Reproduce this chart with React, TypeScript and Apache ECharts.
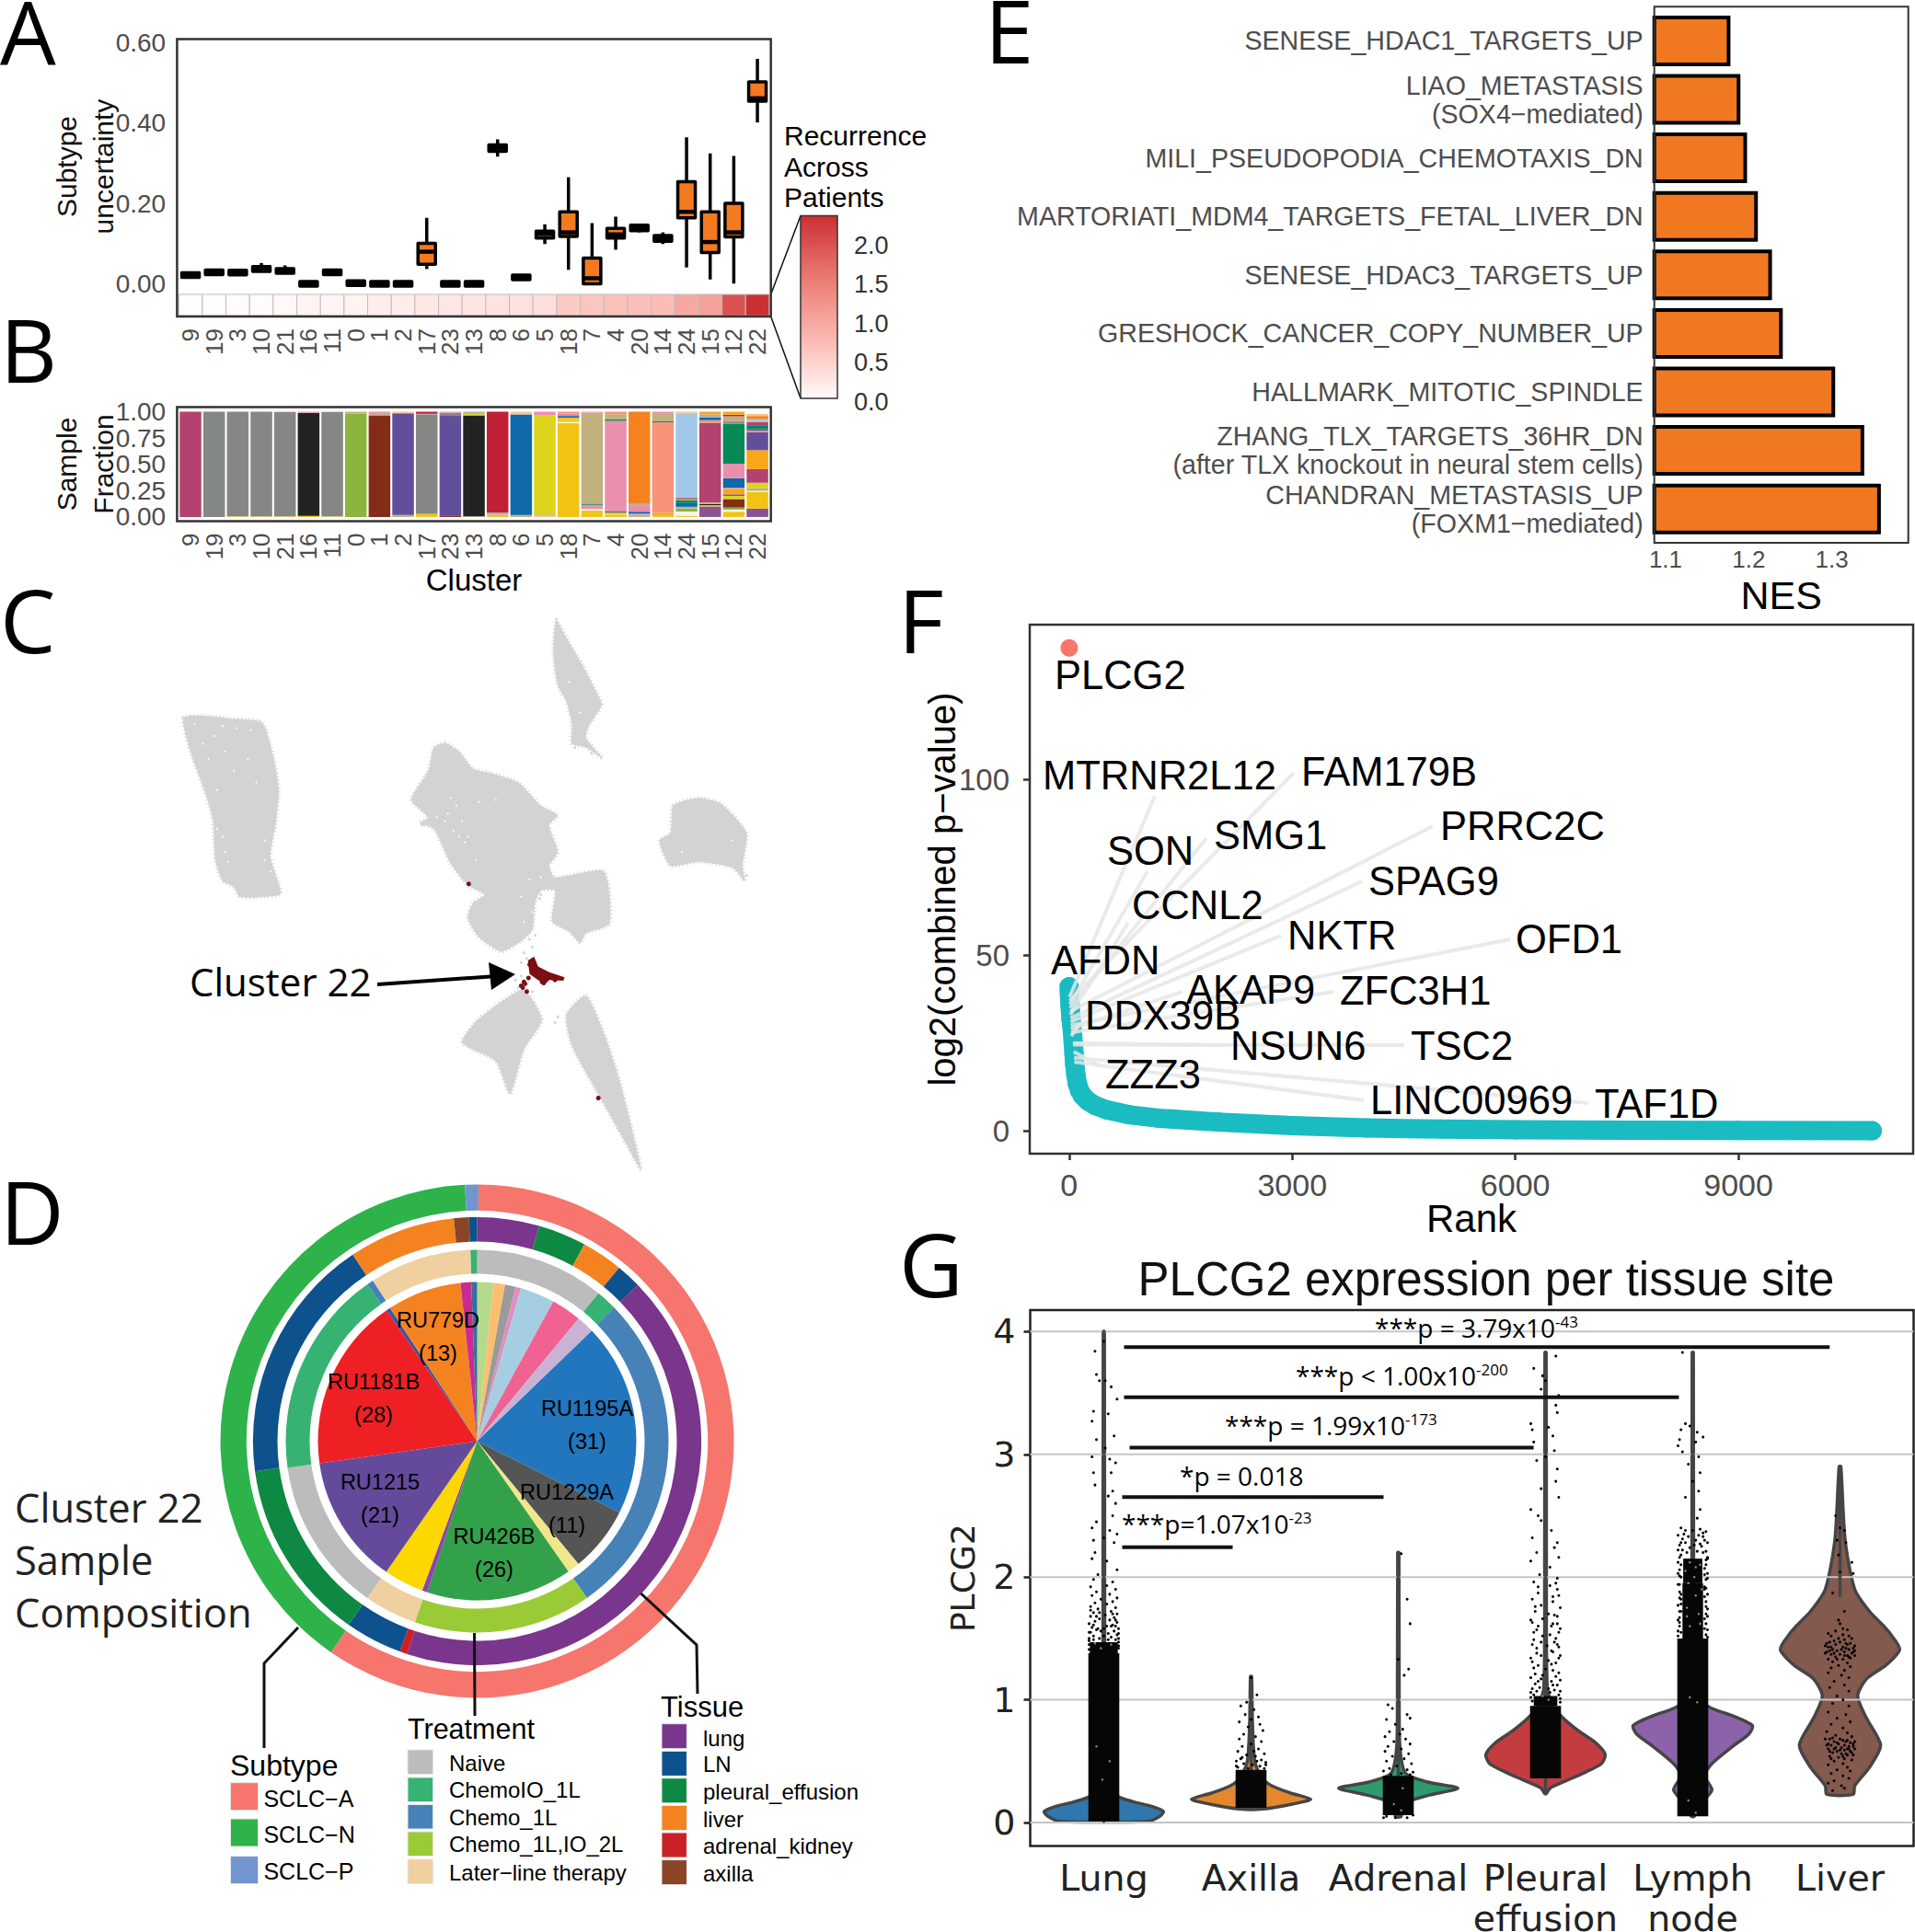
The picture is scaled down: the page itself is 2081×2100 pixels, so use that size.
import React, { useEffect, useRef } from "react";
import * as echarts from "echarts";

const HELV = "'Liberation Sans', Arial, sans-serif";
const MYRIAD = "'Open Sans', sans-serif";
const DEJAVU = "'DejaVu Sans', sans-serif";

// ---------- Panels A / B
const clusters = ["9","19","3","10","21","16","11","0","1","2","17","23","13","8","6","5","18","7","4","20","14","24","15","12","22"];
const boxLow  = [.018,.025,.025,.03,.026,-.001,.025,.0,-.001,-.001,.037,-.001,-.001,.316,.012,.099,.035,0,.085,.128,.099,.041,.011,.001,.401];
const boxQ1   = [.019,.026,.026,.031,.027,-.001,.026,.0,-.001,-.001,.049,-.001,-.001,.329,.013,.114,.118,0,.114,.132,.106,.164,.078,.117,.454];
const boxMed  = [.022,.029,.028,.037,.032,0,.029,.002,0,0,.08,0,0,.338,.016,.124,.128,.014,.123,.14,.114,.179,.104,.128,.461];
const boxQ3   = [.025,.032,.031,.043,.037,.001,.032,.004,.001,.001,.101,.001,.001,.345,.019,.131,.179,.064,.138,.146,.12,.254,.179,.2,.502];
const boxHigh = [.026,.033,.032,.052,.046,.001,.033,.005,.001,.001,.164,.001,.001,.359,.02,.148,.265,.151,.167,.15,.128,.364,.324,.318,.559];
const recurrence = [.02,.03,.04,.05,.07,.12,.12,.14,.2,.22,.25,.28,.3,.32,.34,.36,.6,.65,.7,.72,.75,1.0,1.1,2.0,2.38];
const recurrenceStops = ["#ffffff","#fbb9b2","#ea7a72","#cc2f33"];
const sampleColors: Record<string,string> = {
  rose:"#b34270",gray:"#858785",blk:"#222222",grn:"#8cb43c",brn:"#842c18",pur:"#624f9b",red:"#c01f36",blu:"#0f69aa",
  yel:"#ddd41b",gold:"#f3c313",tan:"#c1b17e",pink:"#ea8fae",org:"#f6821f",sal:"#f8937a",sky:"#a2c8e9",dgr:"#068957",
  amb:"#f9a61a",vio:"#8a5294",wht:"#f4f4f0",peach:"#f8c58a",lgr:"#b0b0a8"
};
const sampleStacks: [string,number][][] = [
  [["rose",1]],
  [["gray",1]],
  [["gold",.005],["gray",.995]],
  [["gold",.005],["gray",.995]],
  [["gold",.005],["gray",.99],["pink",.005]],
  [["gold",.01],["blk",.98],["pink",.01]],
  [["gold",.005],["gray",.99],["pink",.005]],
  [["grn",.98],["tan",.02]],
  [["brn",.965],["tan",.015],["pink",.02]],
  [["tan",.02],["pur",.965],["peach",.015]],
  [["gold",.03],["gray",.94],["lgr",.01],["red",.02]],
  [["brn",.015],["pur",.945],["gray",.03],["pink",.01]],
  [["tan",.005],["blk",.96],["yel",.015],["lgr",.02]],
  [["gold",.02],["lgr",.02],["red",.96]],
  [["tan",.02],["blu",.955],["peach",.025]],
  [["peach",.012],["tan",.012],["yel",.94],["pink",.036]],
  [["gold",.89],["wht",.012],["yel",.03],["amb",.012],["pur",.01],["blu",.012],["pink",.014],["sal",.02]],
  [["gold",.06],["wht",.015],["pink",.04],["dgr",.012],["tan",.863],["pink",.01]],
  [["gold",.02],["yel",.012],["amb",.012],["blu",.012],["pink",.858],["dgr",.012],["tan",.05],["sal",.024]],
  [["tan",.02],["pink",.01],["blu",.02],["pink",.055],["lgr",.02],["org",.875]],
  [["gold",.018],["amb",.022],["sal",.86],["dgr",.012],["tan",.068],["pink",.02]],
  [["gold",.012],["wht",.04],["grn",.03],["lgr",.015],["blu",.035],["dgr",.025],["tan",.012],["red",.012],["sky",.804],["peach",.015]],
  [["vio",.1],["gold",.012],["blk",.012],["tan",.012],["rose",.76],["amb",.012],["pink",.012],["blu",.025],["lgr",.03],["amb",.025]],
  [["gold",.05],["wht",.02],["grn",.02],["brn",.08],["yel",.03],["vio",.015],["amb",.05],["sal",.012],["blu",.09],["pink",.14],["dgr",.38],["gray",.02],["tan",.05],["red",.015],["amb",.028]],
  [["vio",.08],["gold",.16],["wht",.01],["grn",.01],["tan",.015],["yel",.05],["rose",.13],["amb",.18],["pur",.17],["sal",.012],["vio",.015],["dgr",.04],["rose",.012],["red",.015],["sky",.03],["org",.03],["peach",.021]]
];

// ---------- Panel E
const pathways = [
  "SENESE_HDAC1_TARGETS_UP","LIAO_METASTASIS\n(SOX4−mediated)","MILI_PSEUDOPODIA_CHEMOTAXIS_DN","MARTORIATI_MDM4_TARGETS_FETAL_LIVER_DN",
  "SENESE_HDAC3_TARGETS_UP","GRESHOCK_CANCER_COPY_NUMBER_UP","HALLMARK_MITOTIC_SPINDLE",
  "ZHANG_TLX_TARGETS_36HR_DN\n(after TLX knockout in neural stem cells)","CHANDRAN_METASTASIS_UP\n(FOXM1−mediated)"
];
const nesValues = [1.178,1.19,1.198,1.211,1.228,1.241,1.304,1.339,1.359];

// ---------- Panel F
const rankTop: [number,number][] = [[1,137.4]];
const rankCurve: [number,number][] = [[1,41],[3,39.5],[8,37],[15,35],[25,32],[35,30],[45,28],[55,25],[65,22],[75,19],[90,16],[110,13.5],[140,11.5],[180,10],[250,8.5],[350,7.2],[500,6],[800,4.6],[1200,3.6],[2000,2.5],[3000,1.5],[4000,.8],[5000,.5],[6000,.3],[7500,.15],[9000,.08],[10800,.02]];
const geneNames = ["PLCG2","AFDN","MTRNR2L12","FAM179B","SON","SMG1","PRRC2C","CCNL2","SPAG9","NKTR","OFD1","AKAP9","ZFC3H1","DDX39B","NSUN6","TSC2","ZZZ3","LINC00969","TAF1D"];
const geneRanks = [1,2,5,8,10,12,14,16,18,20,22,24,26,28,50,52,62,70,66];
const genePvals = [137.4,41,38,37,36,35,34,33,32,31,30,29,28,27,25,24.5,22.5,19.6,20.8];

// ---------- Panel G
const sites = ["Lung","Axilla","Adrenal","Pleural\neffusion","Lymph\nnode","Liver"];
const violinValues = [
  [.01,.05,.09,.13,.17,.21,.3,.6,1.5,4],
  [.11,.15,.19,.24,.3,.37,.5,.8,1.19],
  [.05,.15,.22,.28,.33,.4,.6,1,2.2],
  [.235,.28,.34,.41,.48,.555,.65,.75,.85,.95,1.1,2,3.83],
  [.05,.15,.265,.38,.48,.62,.72,.79,.87,.95,1.1,2,3.83],
  [.23,.3,.45,.63,.85,1.03,1.17,1.28,1.41,1.54,1.61,1.72,1.9,2.3,2.9]
];
const violinWidths = [
  [.3,.38,.405,.33,.2,.1,.04,.012,.006,.004],
  [.08,.28,.405,.27,.14,.07,.025,.01,.004],
  [.02,.03,.2,.405,.2,.05,.012,.006,.004],
  [.005,.03,.14,.27,.38,.405,.34,.22,.12,.05,.012,.006,.004],
  [.01,.05,.13,.08,.13,.27,.38,.405,.27,.1,.02,.006,.004],
  [.09,.1,.2,.276,.18,.12,.18,.31,.405,.34,.29,.2,.1,.035,.006]
];
const spineLow = [.01,.11,.05,.235,.05,1.85];
const violinColors = ["#2f77ae","#e6872e","#2e9b6e","#c43c40","#8c62aa","#84594e"];
const denseBlocks: [number,number,number,number][] = [
  [0,.01,1.38,.105],[0,1.38,1.47,.095],[1,.12,.43,.105],[2,.06,.38,.105],[3,.36,.95,.105],[3,.95,1.03,.08],
  [4,.05,1.5,.105],[4,1.5,1.95,.07],[4,1.95,2.15,.065]
];
const lungDots: [number,number][] = [[-.06,3.84],[.0,3.92],[-.05,3.65],[-.03,3.6],[.01,3.6],[.05,3.55],[.09,3.45],[-.07,3.35],[.03,3.33],[-.08,3.27],[.07,3.15],[-.05,3.12],[.01,3.05],[-.08,2.98],[.04,2.96],[.08,2.93],[-.07,2.85],[.05,2.85],[-.06,2.75],[.06,2.7],[.03,2.66],[.08,2.6],[.06,2.5],[-.05,2.45],[-.08,2.4],[.04,2.38],[.09,2.35],[.0,2.32],[-.07,2.3],[.07,2.28],[-.06,2.2],[-.08,2.15],[.02,2.13],[.09,2.06],[-.04,2.02],[-.07,1.98],[.06,1.96],[.02,1.93],[-.09,1.92],[.08,1.9],[-.05,1.88],[.04,1.86],[-.08,1.85],[.09,1.83],[-.02,1.82],[.06,1.8],[-.06,1.79],[.02,1.78],[-.09,1.76],[.08,1.75],[-.04,1.74],[.05,1.72],[-.07,1.71],[.09,1.7],[.01,1.69],[-.09,1.68],[.07,1.67],[-.03,1.66],[.04,1.65],[-.06,1.64],[.09,1.63],[-.1,1.62],[.06,1.61],[.02,1.6],[-.08,1.59],[.1,1.58],[-.05,1.57],[.07,1.56],[-.09,1.55],[.03,1.54],[.09,1.53],[-.07,1.52],[.05,1.51],[-.1,1.5],[.1,1.5],[-.04,1.58],[.08,1.6],[-.1,1.55],[.1,1.54],[.0,1.52],[-.02,1.56],[-.1,1.48],[.1,1.47],[-.07,1.49],[.08,1.49],[-.03,1.5],[.03,1.49],[-.1,1.45],[.1,1.44],[-.1,1.41],[.1,1.42],[.0,1.58],[.05,1.6],[-.07,1.61],[.08,1.65],[-.05,1.68],[.06,1.7],[-.03,1.71],[-.09,1.73]];
const axillaDots: [number,number][] = [[.0,1.18],[.04,1.04],[-.03,.98],[-.07,.95],[.02,.92],[-.04,.88],[.05,.86],[.0,.84],[-.08,.82],[.06,.8],[-.02,.78],[.08,.75],[-.05,.72],[.03,.7],[-.08,.68],[.07,.66],[.0,.64],[-.06,.62],[.05,.6],[-.09,.58],[.09,.56],[-.03,.55],[.03,.54],[-.07,.52],[.07,.51],[-.1,.5],[.1,.49],[-.05,.48],[.01,.47],[.06,.46],[-.09,.45],[.09,.44],[-.02,.44],[-.1,.46],[.04,.5],[.1,.47],[-.06,.53],[.02,.58]];
const adrenalDots: [number,number][] = [[.02,2.19],[.06,1.82],[.08,1.62],[.0,1.33],[.07,1.25],[.04,1.2],[-.07,.96],[-.04,.93],[.06,.88],[.08,.85],[-.08,.84],[-.02,.8],[.03,.76],[-.06,.74],[.01,.72],[-.09,.7],[.05,.68],[-.03,.66],[.08,.64],[-.07,.62],[.02,.6],[-.09,.58],[.07,.56],[-.04,.54],[.04,.52],[-.08,.5],[.09,.48],[-.01,.46],[-.06,.44],[.06,.43],[-.1,.42],[.1,.41],[.02,.4],[-.05,.39],[.08,.39],[-.1,.04],[.1,.06],[-.08,.05],[.06,.04],[-.02,.04]];
const pleuralDots: [number,number][] = [[.07,3.8],[-.08,3.7],[-.02,3.64],[.0,3.6],[-.03,3.53],[.09,3.48],[.07,3.4],[.08,3.34],[-.1,3.25],[.02,3.22],[-.09,3.2],[.05,3.15],[-.08,3.1],[.06,3.03],[.0,2.98],[-.06,2.95],[.08,2.88],[.07,2.78],[-.03,2.72],[.09,2.65],[-.1,2.55],[-.05,2.5],[-.03,2.46],[.04,2.38],[-.09,2.32],[.08,2.28],[.06,2.24],[-.06,2.2],[.09,2.16],[-.1,2.13],[.03,2.08],[-.04,2.02],[.08,1.99],[-.08,1.96],[.03,1.93],[.08,1.9],[-.05,1.87],[.09,1.85],[-.09,1.82],[.05,1.8],[-.03,1.77],[.1,1.75],[-.07,1.72],[.02,1.7],[.08,1.68],[-.1,1.65],[.05,1.62],[-.05,1.6],[.1,1.58],[-.08,1.55],[.03,1.53],[.07,1.5],[-.03,1.47],[-.09,1.45],[.09,1.43],[.04,1.4],[-.06,1.38],[.1,1.36],[-.1,1.34],[.02,1.32],[.07,1.3],[-.05,1.28],[-.08,1.26],[.05,1.24],[.09,1.22],[-.02,1.2],[-.1,1.18],[.1,1.16],[.04,1.15],[-.07,1.13],[.08,1.12],[-.04,1.1],[.02,1.09],
  [-.09,1.09],[.06,1.08],[.1,1.07],[-.06,1.07],[-.1,1.06],[.03,1.06],[-.03,1.17],[.07,1.19],[.0,1.25],[-.07,1.21],[.04,1.29],[-.09,1.31],[.09,1.34],[-.03,1.36],[.05,1.39],[-.06,1.42],[.08,1.45],[.01,1.44],[-.08,1.49],[.06,1.47],[-.02,1.52],[.09,1.55],[-.06,1.57],[.04,1.6],[-.09,1.63],[.08,1.62],[-.02,1.66],[.06,1.69],[-.07,1.76],[.05,1.84],[-.05,1.92],[.07,1.95],[-.1,1.02],[.1,1.01],[-.09,.99],[.1,.98],[.09,1.04],[-.08,1.04],[.05,1.12],[-.05,1.15]];
const lymphDots: [number,number][] = [[-.07,3.83],[-.08,3.2],[-.05,3.25],[-.02,3.23],[.03,3.18],[.07,3.14],[-.09,3.12],[-.1,3.07],[.02,3.1],[-.07,3.02],[.04,2.98],[-.03,2.92],[.05,2.85],[.0,2.78],[.04,2.7],[-.05,2.65],[.05,2.55],[.03,2.48],[-.08,2.4],[-.05,2.38],[.0,2.38],[.05,2.39],[.09,2.37],[-.1,2.34],[.07,2.33],[-.07,2.31],[.02,2.3],[.1,2.28],[-.09,2.26],[.06,2.25],[-.1,2.22],[.09,2.21],[-.08,2.18],[.1,2.15],[-.1,2.12],[.09,2.1],[-.09,2.06],[.1,2.03],[-.08,2.0],[.09,1.98],[-.1,1.94],[.08,1.92],[-.09,1.88],[.1,1.86],[-.08,1.82],[.09,1.8],[-.1,1.77],[.1,1.74],[-.09,1.72],[.1,1.68],[-.1,1.65],[.09,1.62],[-.09,1.6],[.1,1.57],[-.1,1.56],[.08,1.9],[-.08,1.78],[.09,1.7],[-.09,1.67],[.1,1.99],[-.1,2.03],[.1,2.16],
  [-.04,2.2],[.03,2.21],[-.07,2.22],[.07,2.2],[-.02,2.24],[.05,2.27],[-.05,2.28],[.01,2.26],[.08,2.3],[-.08,2.28],[-.03,2.33],[.04,2.34],[-.06,2.35],[.07,2.36],[-.09,2.16],[.09,2.14],[-.08,2.1],[.08,2.07],[-.09,2.01],[.08,2.02],[-.09,1.94],[.09,1.91],[-.08,1.86],[.08,1.84],[-.09,1.83],[.09,1.76],[-.08,1.72],[.08,1.66],[-.09,1.63],[.08,1.58],[-.08,1.55],[.09,1.53],[-.1,1.52],[.1,1.51]];
const liverDots: [number,number][] = [[-.03,2.5],[.0,2.4],[.03,2.38],[-.02,2.3],[.04,2.28],[.08,2.12],[.09,2.03],[-.01,2.18],[.0,2.04],[-.05,1.87],[.03,1.72],[-.01,1.65],[.0,1.62],[.02,1.58],[-.03,1.56],[.05,1.57],[-.06,1.52],[.06,1.52],[-.01,1.5],[.03,1.49],[-.07,1.47],[.0,1.47],[.07,1.46],[-.03,1.45],[.05,1.45],[-.08,1.43],[.02,1.43],[.09,1.42],[-.05,1.41],[.06,1.41],[-.02,1.4],[.03,1.39],[-.09,1.39],[.08,1.38],[-.06,1.37],[.0,1.37],[.05,1.36],[-.03,1.35],[.07,1.34],[-.08,1.33],[.02,1.33],[-.05,1.31],[.05,1.3],[-.01,1.28],[.07,1.27],[-.06,1.26],[.03,1.24],[-.08,1.22],[.01,1.2],[.06,1.18],[-.04,1.15],[.03,1.12],[-.07,1.1],[.06,1.07],[-.02,1.03],[.02,1.0],[-.05,.97],[.06,.95],[-.08,.9],[.04,.88],[-.02,.85],[.07,.82],[-.06,.8],[.02,.77],[-.09,.74],[.05,.73],[-.03,.71],[.08,.7],[-.07,.68],[.0,.68],[.05,.67],[-.04,.66],[.07,.65],[-.01,.64],[.03,.63],[-.06,.63],[.09,.62],[-.03,.61],[.01,.61],[.06,.6],[-.08,.6],[.03,.59],[-.02,.58],[.07,.58],[-.05,.57],[.01,.56],[.05,.55],[-.07,.54],[-.01,.53],[.03,.52],[.08,.51],[-.04,.5],[.02,.48],[-.08,.47],[.05,.45],[-.02,.43],[.07,.42],[-.06,.4],[.02,.38],[.06,.36],[-.04,.34],[-.08,.32],[.01,.3],[.03,.28],[-.05,.26],
  [-.1,1.44],[.1,1.44],[-.1,1.38],[.1,1.36],[.04,1.46],[-.04,1.48],[.08,1.5],[-.08,1.54],[.02,1.53],[.04,1.42],[-.04,1.38],[-.09,1.46],[.06,1.35],[-.02,1.33],[.01,1.41],[.09,1.39],[-.07,1.4],[.03,1.36],[-.06,1.43],[.1,1.4],[-.1,.68],[.1,.66],[-.09,.63],[.1,.6],[.04,.66],[-.05,.69],[.09,.64],[-.07,.58],[.06,.62],[-.02,.65],[.02,.67],[.08,.57],[-.04,.6],[.05,.6],[-.08,.64],[.0,.59],[.04,.56],[-.06,.52],[.02,.54],[.09,.55]];
const blockSpecks: [number,number][] = [[-.02,1.42],[.05,1.45],[-.06,1.46],[3.98,1.02],[4.03,.98],[3.02,1.0],[2.98,1.03],[4.05,1.62],[3.96,1.75],[4.02,1.85],[4.04,1.7],[3.98,1.6],[4.01,2.0],[4.05,2.1],[3.95,2.05],[3.98,2.12],[3.97,1.95],[4.02,2.08],[3.96,1.68],[4.06,1.9],[-.01,.35],[.04,.5],[-.05,.62],[2.03,.28],[1.97,.15],[2.02,.1],[4.02,.08],[3.97,.18]];
const compLow = [.1375,.1375,.175,.125,.125];
const compHigh = [4.93,3.906,2.919,1.9,.875];
const compY = [3.873,3.465,3.055,2.651,2.244];
const gTicks = [0,1,2,3,4];
const siteDots = [lungDots,axillaDots,adrenalDots,pleuralDots,lymphDots,liverDots];

// ---------- Panel C (read in a 0-1568 picture space)
const umapBlobs: [number,number][][] = [
  [[325,333],[365,328],[410,335],[465,345],[485,430],[495,520],[490,600],[480,690],[490,740],[498,788],[455,797],[425,795],[415,770],[395,755],[382,700],[378,600],[365,530],[340,430]],
  [[987,80],[1005,125],[1035,200],[1060,270],[1068,300],[1045,355],[1040,385],[1070,438],[1040,410],[1015,400],[1015,350],[1005,290],[990,250],[982,170]],
  [[790,398],[815,420],[840,465],[870,475],[920,500],[960,560],[990,585],[975,610],[990,680],[975,715],[985,745],[1072,730],[1082,865],[1040,890],[1030,915],[1010,885],[980,860],[985,780],[960,780],[950,810],[945,880],[925,910],[890,937],[850,900],[830,850],[840,810],[860,790],[830,765],[800,710],[770,620],[745,605],[760,590],[730,545],[760,470],[770,410]],
  [[1195,560],[1240,540],[1280,555],[1325,630],[1318,715],[1322,755],[1300,720],[1240,705],[1190,715],[1170,650],[1190,630]],
  [[925,1035],[945,1060],[962,1115],[930,1190],[905,1305],[880,1220],[820,1172],[850,1110]],
  [[1040,1050],[1070,1140],[1100,1270],[1138,1500],[1110,1430],[1060,1300],[1015,1180],[1005,1100]]
];
const umapCluster22: [number,number][] = [[948,950],[955,975],[975,990],[1002,1003],[1000,1012],[975,1010],[968,1020],[955,1010],[940,995],[937,960]];
const umapGreySpecks: [number,number][] = [[930,940],[935,955],[925,965],[945,925],[940,905],[935,890],[950,895],[925,1000],[915,1010],[945,1040],[930,1050],[990,1105],[985,1120],[920,1030],[1050,425],[1020,410],[750,610],[1325,740],[958,800],[945,860],[960,790],[940,830]];
const umapGaps: [number,number][] = [[800,540],[810,560],[795,580],[820,600],[805,625],[830,640],[825,655],[880,545],[850,550],[940,750],[960,745],[925,795],[945,835],[930,860],[395,640],[400,680],[385,620],[420,360],[380,380],[440,440],[400,420],[360,400],[470,650],[345,350],[395,355],[445,365],[370,440],[415,470],[455,500],[385,520],[405,705],[470,700],[480,730],[775,590],[790,600],[815,640],[845,700],[1210,680],[1300,650],[1030,320],[1010,240]];
const umapRedSpecks: [number,number][] = [[930,1015],[925,1025],[935,1040],[938,1005],[965,1018],[1062,1315],[832,762],[945,985],[928,1030],[932,1020],[985,1010],[940,970],[962,1015]];

// ---------- Panel D (slice shares in degrees)
const pieNames = ["s1","s2","s3","s4","s5","s6","s7","RU1195A","RU1229A","s10","RU426B","s12","s13","RU1215","RU1181B","s16","RU779D","s18","s19"];
const pieShares = [6,4.1,3.9,2,12.6,11,6.5,70.5,23.9,4.5,53.3,1.9,14.6,47.2,63.3,1.5,27.2,3.9,2.1];
const pieCounts = [0,0,0,0,0,0,0,31,11,0,26,0,0,21,28,0,13,0,0];
const pieColors = ["#b5da8c","#fdbf6f","#9a9a9a","#dc8fc0","#a6cee3","#f06292","#cab2d6","#2176bd","#555555","#f0e68c","#33a04a","#8e44ad","#fcd800","#654a9c","#ee2024","#3953a4","#f58220","#c92c90","#376ea3"];
const treatmentShares = [39.4,6.3,99.3,54,16,47,63,2,31,2];
const treatmentKinds = ["Naive","ChemoIO_1L","Chemo_1L","Chemo_1L,IO_2L","Later−line therapy","Naive","ChemoIO_1L","Chemo_1L","Later−line therapy","ChemoIO_1L"];
const tissueShares = [16.1,12.5,10.7,6.5,152.4,2,14.8,47.3,64,27.7,3.9,2.1];
const tissueKinds = ["lung","pleural_effusion","liver","LN","lung","adrenal_kidney","LN","pleural_effusion","LN","liver","axilla","LN"];
const subtypeShares = [214.4,142.6,3];
const subtypeKinds = ["SCLC−A","SCLC−N","SCLC−P"];
const subtypeColors: Record<string,string> = {"SCLC−A":"#f6756d","SCLC−N":"#2db34a","SCLC−P":"#7195ce"};
const treatmentColors: Record<string,string> = {"Naive":"#bcbcbc","ChemoIO_1L":"#36b272","Chemo_1L":"#4682b8","Chemo_1L,IO_2L":"#9acb36","Later−line therapy":"#f0d0a0"};
const tissueColors: Record<string,string> = {"lung":"#7a358c","LN":"#0d528d","pleural_effusion":"#0e8943","liver":"#f58220","adrenal_kidney":"#cc2027","axilla":"#8a4526"};

// ---------- Layout constants
const pieLabelLayout: Record<string,[number,number]> = {
  RU1195A:[638,1549],RU1229A:[616,1640],RU426B:[537,1688],RU1215:[413,1629],RU1181B:[406,1520],RU779D:[476,1453]
};
const geneLabelLayout: Record<string,{x:number;y:number;ex?:number;ey?:number}> = {
  PLCG2:{x:1146,y:734}, AFDN:{x:1142,y:1044},
  MTRNR2L12:{x:1133,y:843,ex:1255,ey:865}, FAM179B:{x:1414,y:839,ex:1406,ey:840},
  SON:{x:1203,y:925,ex:1247,ey:947}, SMG1:{x:1319,y:908,ex:1311,ey:911},
  PRRC2C:{x:1565,y:898,ex:1557,ey:898}, CCNL2:{x:1230,y:984,ex:1226,ey:1003},
  SPAG9:{x:1487,y:958,ex:1480,ey:958}, NKTR:{x:1399,y:1017,ex:1392,ey:1017},
  OFD1:{x:1647,y:1021,ex:1641,ey:1021}, AKAP9:{x:1289,y:1076,ex:1285,ey:1078},
  ZFC3H1:{x:1456,y:1077,ex:1449,ey:1078}, DDX39B:{x:1179,y:1104,ex:1173,ey:1113},
  NSUN6:{x:1337,y:1137,ex:1329,ey:1136}, TSC2:{x:1533,y:1137,ex:1526,ey:1136},
  ZZZ3:{x:1201,y:1168,ex:1194,ey:1158}, LINC00969:{x:1489,y:1196,ex:1482,ey:1196},
  TAF1D:{x:1733,y:1200,ex:1726,ey:1199}
};

function hexLerp(a:string,b:string,t:number){
  const p=(h:string,i:number)=>parseInt(h.slice(i,i+2),16);
  const c=[1,3,5].map(i=>Math.round(p(a,i)+(p(b,i)-p(a,i))*t));
  return `rgb(${c[0]},${c[1]},${c[2]})`;
}
function recColor(v:number){
  const t=Math.min(.9999,v/2.38)*(recurrenceStops.length-1);
  const i=Math.floor(t);
  return hexLerp(recurrenceStops[i],recurrenceStops[i+1],t-i);
}

function txt(text:string,x:number,y:number,size:number,o:any={}){
  return {type:"text",x,y,z:30,silent:true,rotation:o.rotation||0,style:{text,fontSize:size,fontFamily:o.font||HELV,fill:o.fill||"#000",
    textAlign:o.align||"left",textVerticalAlign:o.valign||"middle",lineHeight:o.lineHeight,rich:o.rich,fontWeight:o.weight||"normal"}};
}
function frame(x:number,y:number,w:number,h:number,lw=2.5){
  return {type:"rect",z:25,silent:true,shape:{x,y,width:w,height:h},style:{fill:"none",stroke:"#333",lineWidth:lw}};
}
function swatch(x:number,y:number,w:number,h:number,c:string){
  return {type:"rect",z:20,silent:true,shape:{x,y,width:w,height:h},style:{fill:c,stroke:"#e8e8e8",lineWidth:1}};
}
function poly(points:number[][],lw=3){
  return {type:"polyline",z:20,silent:true,shape:{points},style:{stroke:"#111",lineWidth:lw,fill:"none"}};
}
function sup(base:string,exp:string,x:number,y:number){
  return txt(`{a|${base}}{b|${exp}}`,x,y,27,{font:MYRIAD,rich:{
    a:{fontSize:28,fontFamily:MYRIAD,fill:"#000"},
    b:{fontSize:17,fontFamily:MYRIAD,fill:"#000",verticalAlign:"top",lineHeight:30}}});
}

function buildOption(){
  const maxSeg=Math.max(...sampleStacks.map(s=>s.length));
  const stackSeries=[];
  for(let k=0;k<maxSeg;k++){
    stackSeries.push({type:"bar",name:"seg"+k,stack:"samples",xAxisIndex:2,yAxisIndex:3,barWidth:23.5,silent:true,
      data:sampleStacks.map(s=>s[k]?{value:s[k][1],itemStyle:{color:sampleColors[s[k][0]]}}:0)});
  }
  const tickFont={fontFamily:HELV,color:"#4d4d4d"};
  const noAxis={show:false};
  const noLine={show:false,onZero:false};
  const graphicEls:any[]=[
    txt("A",0,33,96,{font:MYRIAD}),txt("B",0,378,96,{font:MYRIAD}),txt("C",0,672,96,{font:MYRIAD}),
    txt("D",0,1315,96,{font:MYRIAD}),txt("E",1070,31,96,{font:MYRIAD}),txt("F",976,672,96,{font:MYRIAD}),txt("G",977,1372,96,{font:MYRIAD}),
    frame(192.4,42.5,645.3,301.5),frame(192.4,442.5,645.3,124),frame(1797.7,7.3,276,582.7,2),
    txt("Subtype\nuncertainty",92,181,30,{rotation:Math.PI/2,align:"center",lineHeight:40,fill:"#111"}),
    txt("Recurrence\nAcross\nPatients",852,181,30,{lineHeight:33.5}),
    poly([[837.7,320],[870,234.5]],1.5),poly([[837.7,344],[870,433]],1.5),
    frame(870,234.5,40,198.5,1.5),
    txt("Cluster 22",206,1066,42,{font:MYRIAD}),
    {type:"line",z:20,silent:true,shape:{x1:410,y1:1070,x2:540,y2:1061},style:{stroke:"#000",lineWidth:4}},
    {type:"polygon",z:21,silent:true,shape:{points:[[560,1059],[531,1046],[534,1076]]},style:{fill:"#000"}},
    txt("Cluster 22\nSample\nComposition",16,1695,43.5,{font:MYRIAD,lineHeight:57,fill:"#222"}),
    poly([[324,1769],[287,1808],[287,1900]]),poly([[515.5,1775],[516,1865]]),poly([[696.5,1732],[757,1788],[758,1841]]),
    txt("Subtype",250,1919,32),txt("Treatment",443,1879,30.5),txt("Tissue",718,1855,31)
  ];
  const subY=[1937.7,1977,2017.6], subT=[1955,1994,2034];
  subtypeKinds.forEach((k,i)=>{graphicEls.push(swatch(250.5,subY[i],30,30,subtypeColors[k]));graphicEls.push(txt(k,286.4,subT[i],25));});
  const trY=[1902,1932,1961.5,1991,2021], trT=[1916,1945,1975,2004,2035];
  Object.keys(treatmentColors).forEach((k,i)=>{graphicEls.push(swatch(443,trY[i],27.6,26.5,treatmentColors[k]));graphicEls.push(txt(k,488,trT[i],24));});
  const tiY=[1873.7,1903.4,1932.8,1962.5,1992,2021.6], tiT=[1889,1917.6,1947.6,1977,2006,2036];
  Object.keys(tissueColors).forEach((k,i)=>{graphicEls.push(swatch(719,tiY[i],27.4,27,tissueColors[k]));graphicEls.push(txt(k,764,tiT[i],24));});
  pieNames.forEach((n,i)=>{
    if(pieCounts[i]){const p=pieLabelLayout[n];graphicEls.push(txt(`${n}\n(${pieCounts[i]})`,p[0],p[1],23.5,{align:"center",lineHeight:36}));}
  });
  graphicEls.push(sup("***p = 3.79x10","-43",1494,1443),sup("***p < 1.00x10","-200",1408,1495),sup("***p = 1.99x10","-173",1331,1549),
    txt("*p = 0.018",1282,1604,28,{font:MYRIAD}),sup("***p=1.07x10","-23",1219,1656));

  const violinRender=(params:any,api:any)=>{
    const i=api.value(0);
    const vals=violinValues[i], hw=violinWidths[i];
    const right=vals.map((v,k)=>api.coord([i+hw[k],v]));
    const left=vals.map((v,k)=>api.coord([i-hw[k],v])).reverse();
    return {type:"polygon",shape:{points:[...right,...left],smooth:.25},style:{fill:violinColors[i],stroke:"#454545",lineWidth:3.5,lineJoin:"round"}};
  };
  const gridBase={outerBoundsMode:"none"};

  return {
    animation:false,
    backgroundColor:"#ffffff",
    textStyle:{fontFamily:HELV},
    title:[{text:"PLCG2 expression per tissue site",left:1610,top:1360,textAlign:"center",textStyle:{fontFamily:HELV,fontSize:51,fontWeight:"normal",color:"#111"}}],
    grid:[
      {...gridBase,left:194.2,top:42.5,width:641.7,height:301.5},
      {...gridBase,left:870,top:234.5,width:40,height:202.5},
      {...gridBase,left:194.2,top:442.5,width:641.7,height:124},
      {...gridBase,left:1797.7,top:12.6,width:276,height:572.4},
      {...gridBase,left:1119,top:679,width:960,height:575,show:true,borderColor:"#333",borderWidth:2.5},
      {...gridBase,left:1119.5,top:1424,width:960,height:582.5,show:true,borderColor:"#222",borderWidth:2.5},
      {...gridBase,left:0,top:640,width:960,height:660}
    ],
    xAxis:[
      {type:"category",gridIndex:0,data:clusters,axisLine:noLine,axisTick:{alignWithLabel:true,length:7,lineStyle:{color:"#333",width:3}},axisLabel:{...tickFont,interval:0,rotate:90,fontSize:26,margin:13}},
      {type:"value",gridIndex:1,min:0,max:1,...noAxis},
      {type:"category",gridIndex:2,data:clusters,name:"Cluster",nameLocation:"middle",nameMoveOverlap:false,nameGap:47,nameTextStyle:{fontFamily:HELV,fontSize:33,color:"#000"},axisLine:noLine,axisTick:{alignWithLabel:true,length:7,lineStyle:{color:"#333",width:3}},axisLabel:{...tickFont,interval:0,rotate:90,fontSize:26,margin:13}},
      {type:"value",gridIndex:3,min:1.0864,max:1.392,name:"NES",nameLocation:"middle",nameMoveOverlap:false,nameGap:40,nameTextStyle:{fontFamily:HELV,fontSize:43,color:"#000"},splitLine:{show:false},axisLine:noLine,
        axisTick:{customValues:[1.1,1.2,1.3],length:6,lineStyle:{color:"#333",width:2.5}},axisLabel:{...tickFont,customValues:[1.1,1.2,1.3],fontSize:26,margin:10,formatter:(v:number)=>v.toFixed(1)}},
      {type:"value",gridIndex:4,min:-530,max:11351,name:"Rank",nameLocation:"middle",nameMoveOverlap:false,nameGap:49,nameTextStyle:{fontFamily:HELV,fontSize:42,color:"#000"},splitLine:{show:false},axisLine:noLine,
        axisTick:{customValues:[0,3000,6000,9000],length:7,lineStyle:{color:"#333",width:2.5}},axisLabel:{...tickFont,customValues:[0,3000,6000,9000],fontSize:34,margin:17,formatter:(v:number)=>String(v)}},
      {type:"category",gridIndex:5,data:sites,axisLine:noLine,axisTick:{alignWithLabel:true,length:7,lineStyle:{color:"#222",width:2.5}},axisLabel:{fontFamily:DEJAVU,color:"#222",interval:0,fontSize:39.5,lineHeight:44,margin:12}},
      {type:"value",gridIndex:5,min:-.5,max:5.5,...noAxis},
      {type:"value",gridIndex:6,min:0,max:1568,...noAxis}
    ],
    yAxis:[
      {type:"value",gridIndex:0,min:-.0809,max:.608,splitLine:{show:false},axisLine:noLine,axisTick:{customValues:[0,.2,.4,.6],length:8,lineStyle:{color:"#333",width:3}},axisLabel:{...tickFont,customValues:[0,.2,.4,.6],fontSize:28,margin:14,formatter:(v:number)=>v.toFixed(2)}},
      {type:"value",gridIndex:1,position:"right",min:0,max:2.38,splitLine:{show:false},axisLine:noLine,axisTick:{inside:true,customValues:[.5,1,1.5,2],length:7,lineStyle:{color:"#fff",width:1.5}},axisLabel:{...tickFont,color:"#333",customValues:[0,.5,1,1.5,2],fontSize:27,margin:18,formatter:(v:number)=>v.toFixed(1)}},
      {type:"value",gridIndex:1,position:"left",min:0,max:2.38,splitLine:{show:false},axisLine:noLine,axisTick:{inside:true,customValues:[.5,1,1.5,2],length:7,lineStyle:{color:"#fff",width:1.5}},axisLabel:{show:false}},
      {type:"value",gridIndex:2,min:-.04,max:1.044,name:"Sample\nFraction",nameLocation:"middle",nameMoveOverlap:false,nameRotate:90,nameGap:62,nameTextStyle:{fontFamily:HELV,fontSize:30,color:"#111",lineHeight:40},splitLine:{show:false},axisLine:noLine,axisTick:{customValues:[0,.25,.5,.75,1],length:8,lineStyle:{color:"#333",width:3}},axisLabel:{...tickFont,customValues:[0,.25,.5,.75,1],fontSize:28,margin:14,formatter:(v:number)=>v.toFixed(2)}},
      {type:"category",gridIndex:3,inverse:true,data:pathways,axisLine:noLine,axisTick:{alignWithLabel:true,length:6,lineStyle:{color:"#333",width:2.5}},axisLabel:{...tickFont,interval:0,fontSize:28.6,lineHeight:31,margin:12}},
      {type:"value",gridIndex:4,min:-6.5,max:144,name:"log2(combined p−value)",nameLocation:"middle",nameMoveOverlap:false,nameRotate:90,nameGap:75,nameTextStyle:{fontFamily:HELV,fontSize:40,color:"#000"},splitLine:{show:false},axisLine:noLine,axisTick:{customValues:[0,50,100],length:7,lineStyle:{color:"#333",width:2.5}},axisLabel:{...tickFont,customValues:[0,50,100],fontSize:33,margin:22}},
      {type:"value",gridIndex:5,min:-.191,max:4.175,name:"PLCG2",nameLocation:"middle",nameMoveOverlap:false,nameRotate:90,nameGap:55,nameTextStyle:{fontFamily:DEJAVU,fontSize:36,color:"#222"},splitLine:{show:false},axisLine:noLine,axisTick:{customValues:gTicks,length:7,lineStyle:{color:"#222",width:2.5}},axisLabel:{fontFamily:DEJAVU,color:"#222",customValues:gTicks,fontSize:38,margin:16}},
      {type:"value",gridIndex:6,inverse:true,min:0,max:1568,...noAxis}
    ],
    series:[
      // A: heat strip
      {type:"custom",xAxisIndex:0,yAxisIndex:0,silent:true,clip:false,z:2,data:recurrence.map((v,i)=>[i,v]),
        renderItem:(p:any,api:any)=>{
          const i=api.value(0),v=api.value(1);
          const w=api.size([1,0])[0];
          const a=api.coord([i,-.026]),b=api.coord([i,-.079]);
          return {type:"rect",shape:{x:a[0]-w/2,y:a[1],width:w,height:b[1]-a[1]},style:{fill:recColor(v),stroke:"#bdbdbd",lineWidth:1}};
        }},
      // A: box plots
      {type:"custom",xAxisIndex:0,yAxisIndex:0,silent:true,clip:false,z:3,
        data:clusters.map((c,i)=>[i,boxLow[i],boxQ1[i],boxMed[i],boxQ3[i],boxHigh[i]]),
        renderItem:(p:any,api:any)=>{
          const i=api.value(0);
          const pt=(k:number)=>api.coord([i,api.value(k)]);
          const lo=pt(1),q1=pt(2),md=pt(3),q3=pt(4),hi=pt(5);
          const w=19;
          const st={stroke:"#000",lineWidth:3.5,lineJoin:"round"};
          return {type:"group",children:[
            {type:"line",shape:{x1:lo[0],y1:lo[1],x2:hi[0],y2:hi[1]},style:st},
            {type:"rect",shape:{x:q3[0]-w/2,y:Math.min(q3[1],md[1]-2.5),width:w,height:Math.max(q1[1]-q3[1],5)},style:{...st,fill:"#f47a20"}},
            {type:"line",shape:{x1:md[0]-w/2,y1:md[1],x2:md[0]+w/2,y2:md[1]},style:{stroke:"#000",lineWidth:4.5}}
          ]};
        }},
      // colour bar
      {type:"custom",xAxisIndex:1,yAxisIndex:1,silent:true,clip:true,data:[[0,2.38]],
        renderItem:(p:any,api:any)=>{
          const a=api.coord([0,api.value(1)]),b=api.coord([1,0]);
          return {type:"rect",z2:0,shape:{x:a[0],y:a[1],width:b[0]-a[0],height:b[1]-a[1]},style:{fill:new echarts.graphic.LinearGradient(0,1,0,0,
            recurrenceStops.map((c,i)=>({offset:i/(recurrenceStops.length-1),color:c})))}};
        }},
      ...stackSeries,
      // E
      {type:"bar",xAxisIndex:3,yAxisIndex:4,data:nesValues,barWidth:55,silent:true,itemStyle:{color:"#f07820",borderColor:"#000",borderWidth:4}},
      // F
      {type:"line",xAxisIndex:4,yAxisIndex:5,data:rankCurve,silent:true,symbol:"circle",symbolSize:21,showSymbol:true,showAllSymbol:true,lineStyle:{color:"#1abcc2",width:21,cap:"round",join:"round"},itemStyle:{color:"#1abcc2"},z:2},
      {type:"scatter",xAxisIndex:4,yAxisIndex:5,data:rankTop,silent:true,symbolSize:19,itemStyle:{color:"#f8766d",opacity:1},z:3},
      {type:"custom",xAxisIndex:4,yAxisIndex:5,silent:true,clip:false,z:4,data:geneNames.map((g,i)=>[geneRanks[i],genePvals[i],i]),
        renderItem:(p:any,api:any)=>{
          const name=geneNames[api.value(2)];
          const l=geneLabelLayout[name];
          const s=api.coord([api.value(0),api.value(1)]);
          const ch:any[]=[];
          if(l.ex!==undefined) ch.push({type:"line",shape:{x1:s[0],y1:s[1],x2:l.ex,y2:l.ey},style:{stroke:"#e6e6e6",lineWidth:4,opacity:.85}});
          ch.push({type:"text",z2:5,x:l.x,y:l.y,style:{text:name,fontSize:43.5,fontFamily:HELV,fill:"#000",textVerticalAlign:"middle",textAlign:"left"}});
          return {type:"group",children:ch};
        }},
      // G: violins
      {type:"custom",xAxisIndex:6,yAxisIndex:6,silent:true,clip:true,z:2,data:sites.map((s,i)=>[i]),renderItem:violinRender},
      {type:"custom",xAxisIndex:6,yAxisIndex:6,silent:true,clip:true,z:3,data:gTicks.map(v=>[v]),
        renderItem:(p:any,api:any)=>{
          const a=api.coord([-.5,api.value(0)]),b=api.coord([5.5,api.value(0)]);
          return {type:"line",shape:{x1:a[0],y1:a[1],x2:b[0],y2:b[1]},style:{stroke:"#c4c4c4",lineWidth:2}};
        }},
      {type:"custom",xAxisIndex:6,yAxisIndex:6,silent:true,clip:true,z:4,data:violinValues.map((v,i)=>[i,spineLow[i],v[v.length-1]]),
        renderItem:(p:any,api:any)=>{
          const a=api.coord([api.value(0),api.value(1)]),b=api.coord([api.value(0),api.value(2)]);
          return {type:"line",shape:{x1:a[0],y1:a[1],x2:b[0],y2:b[1]},style:{stroke:"#454545",lineWidth:3.5,lineCap:"round"}};
        }},
      {type:"custom",xAxisIndex:6,yAxisIndex:6,silent:true,clip:true,z:5,data:denseBlocks,
        renderItem:(p:any,api:any)=>{
          const i=api.value(0),hw=api.value(3);
          const a=api.coord([i-hw,api.value(2)]),b=api.coord([i+hw,api.value(1)]);
          return {type:"rect",shape:{x:a[0],y:a[1],width:b[0]-a[0],height:b[1]-a[1]},style:{fill:"#060606"}};
        }},
      {type:"scatter",xAxisIndex:6,yAxisIndex:6,silent:true,z:6,symbolSize:3,itemStyle:{color:"#000",opacity:1},
        data:siteDots.flatMap((d,i)=>d.map(q=>[i+q[0],q[1]]))},
      {type:"scatter",xAxisIndex:6,yAxisIndex:6,silent:true,z:6,symbolSize:2.5,itemStyle:{color:"#888888",opacity:1},data:blockSpecks},
      {type:"custom",xAxisIndex:6,yAxisIndex:6,silent:true,clip:true,z:7,data:compLow.map((l,i)=>[l,compHigh[i],compY[i]]),
        renderItem:(p:any,api:any)=>{
          const a=api.coord([api.value(0),api.value(2)]),b=api.coord([api.value(1),api.value(2)]);
          return {type:"line",shape:{x1:a[0],y1:a[1],x2:b[0],y2:b[1]},style:{stroke:"#111",lineWidth:4}};
        }},
      // C
      {type:"custom",xAxisIndex:7,yAxisIndex:7,silent:true,clip:false,z:1,data:umapBlobs.map((b,i)=>[i]),
        renderItem:(p:any,api:any)=>({type:"polygon",shape:{points:umapBlobs[api.value(0)].map(q=>api.coord(q)),smooth:.2},style:{fill:"#d3d3d3",stroke:"#d3d3d3",lineWidth:4,lineDash:[1,3]}})},
      {type:"scatter",xAxisIndex:7,yAxisIndex:7,silent:true,z:2,symbolSize:3,itemStyle:{color:"#d3d3d3",opacity:1},data:umapGreySpecks},
      {type:"scatter",xAxisIndex:7,yAxisIndex:7,silent:true,z:2,symbolSize:2,itemStyle:{color:"#ffffff",opacity:1},data:umapGaps},
      {type:"custom",xAxisIndex:7,yAxisIndex:7,silent:true,clip:false,z:3,data:[[0]],
        renderItem:(p:any,api:any)=>({type:"polygon",shape:{points:umapCluster22.map(q=>api.coord(q))},style:{fill:"#7b0f12"}})},
      {type:"scatter",xAxisIndex:7,yAxisIndex:7,silent:true,z:3,symbolSize:5,itemStyle:{color:"#7b0f12",opacity:1},data:umapRedSpecks},
      // D
      ...[
        {r:[250.7,279],names:subtypeKinds,vals:subtypeShares,cols:subtypeKinds.map(k=>subtypeColors[k]),start:89.7},
        {r:[217,243.6],names:tissueKinds,vals:tissueShares,cols:tissueKinds.map(k=>tissueColors[k]),start:90},
        {r:[182,208],names:treatmentKinds,vals:treatmentShares,cols:treatmentKinds.map(k=>treatmentColors[k]),start:90},
        {r:[0,173],names:pieNames,vals:pieShares,cols:pieColors,start:90}
      ].map(g=>({type:"pie",center:[518.5,1566.5],radius:g.r,startAngle:g.start,silent:true,avoidLabelOverlap:false,minShowLabelAngle:0,
        label:{show:false},labelLine:{show:false},itemStyle:{borderWidth:0},
        data:g.vals.map((v,i)=>({name:g.names[i],value:v,itemStyle:{color:g.cols[i]}}))}))
    ],
    graphic:{elements:graphicEls}
  };
}

export default function App(){
  const ref=useRef<HTMLDivElement>(null);
  useEffect(()=>{
    document.body.style.margin="0";
    const chart=echarts.init(ref.current as HTMLDivElement,undefined,{renderer:"svg"});
    chart.setOption(buildOption() as any);
    return ()=>chart.dispose();
  },[]);
  return <div ref={ref} style={{width:2081,height:2100,display:"block"}}/>;
}
